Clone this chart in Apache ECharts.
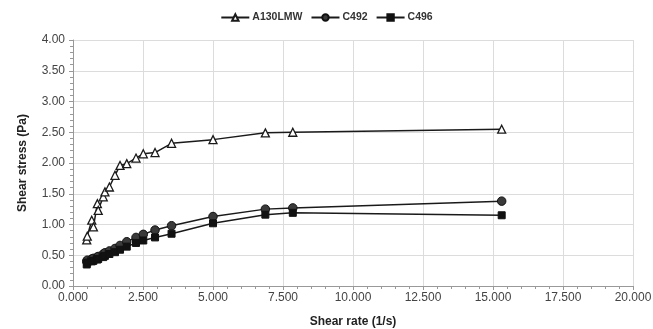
<!DOCTYPE html>
<html><head><meta charset="utf-8">
<script src="https://cdn.jsdelivr.net/npm/echarts@6/dist/echarts.min.js"></script>
<style>html,body{margin:0;padding:0;background:#fff}#c{width:653px;height:329px}</style>
</head><body><div id="c"></div>
<script>
const shearRate = [0.49, 0.51, 0.67, 0.73, 0.87, 0.90, 1.08, 1.14, 1.30, 1.50, 1.68, 1.92, 2.25, 2.51, 2.93, 3.52, 5.00, 6.87, 7.85, 15.31];
const a130lmw  = [0.75, 0.81, 1.07, 0.96, 1.34, 1.23, 1.45, 1.53, 1.61, 1.80, 1.96, 1.99, 2.08, 2.15, 2.17, 2.32, 2.38, 2.49, 2.50, 2.55];
const c492     = [0.40, 0.42, 0.44, 0.45, 0.47, 0.48, 0.52, 0.54, 0.57, 0.61, 0.66, 0.72, 0.79, 0.84, 0.91, 0.98, 1.13, 1.25, 1.27, 1.38];
const c496     = [0.35, 0.38, 0.40, 0.41, 0.43, 0.44, 0.47, 0.49, 0.52, 0.55, 0.59, 0.64, 0.70, 0.74, 0.79, 0.85, 1.02, 1.16, 1.19, 1.15];
const seriesNames = ['A130LMW', 'C492', 'C496'];
const xName = 'Shear rate (1/s)';
const yName = 'Shear stress (Pa)';

const pairs = arr => shearRate.map((x, i) => [x, arr[i]]);
const font = 'Liberation Sans, Arial, sans-serif';
const chart = echarts.init(document.getElementById('c'));
const lineStyle = {color: '#1a1a1a', width: 1.5};
chart.setOption({
  animation: false,
  textStyle: {fontFamily: font},
  legend: {
    top: 7, left: 'center', itemWidth: 28, itemHeight: 8, itemGap: 8,
    textStyle: {fontFamily: font, fontSize: 10.5, fontWeight: 'bold', color: '#333', padding: [0, 0, 0, -2]},
    data: seriesNames
  },
  grid: {left: 73, right: 20, top: 40, bottom: 43, containLabel: false, outerBoundsMode: 'none'},
  xAxis: {
    type: 'value', min: 0, max: 20, interval: 2.5,
    name: xName, nameLocation: 'middle', nameGap: 30,
    nameTextStyle: {fontFamily: font, fontSize: 12, fontWeight: 'bold', color: '#222'},
    axisLine: {show: true, lineStyle: {color: '#999', width: 1}},
    axisTick: {show: true, length: 4, lineStyle: {color: '#999'}},
    minorTick: {show: true, splitNumber: 5, length: 3, lineStyle: {color: '#999'}},
    axisLabel: {fontFamily: font, fontSize: 12, color: '#444', margin: 6, formatter: v => v.toFixed(3)},
    splitLine: {show: true, lineStyle: {color: '#dcdcdc', width: 1}}
  },
  yAxis: {
    type: 'value', min: 0, max: 4, interval: 0.5,
    name: yName, nameLocation: 'middle', nameGap: 44,
    nameTextStyle: {fontFamily: font, fontSize: 12, fontWeight: 'bold', color: '#222'},
    axisLine: {show: true, lineStyle: {color: '#999', width: 1}},
    axisTick: {show: true, length: 4, lineStyle: {color: '#999'}},
    minorTick: {show: true, splitNumber: 5, length: 3, lineStyle: {color: '#999'}},
    axisLabel: {fontFamily: font, fontSize: 12, color: '#444', margin: 8, formatter: v => v.toFixed(2)},
    splitLine: {show: true, lineStyle: {color: '#dcdcdc', width: 1}}
  },
  series: [
    {name: seriesNames[0], type: 'line', data: pairs(a130lmw), symbol: 'triangle', symbolSize: 8,
     lineStyle, itemStyle: {color: '#fff', borderColor: '#1a1a1a', borderWidth: 1.3}},
    {name: seriesNames[1], type: 'line', data: pairs(c492), symbol: 'circle', symbolSize: 8.5,
     lineStyle, itemStyle: {color: '#3a3a3a', borderColor: '#111', borderWidth: 1}},
    {name: seriesNames[2], type: 'line', data: pairs(c496), symbol: 'rect', symbolSize: 7,
     lineStyle, itemStyle: {color: '#111', borderColor: '#111', borderWidth: 1}}
  ]
});
</script></body></html>
